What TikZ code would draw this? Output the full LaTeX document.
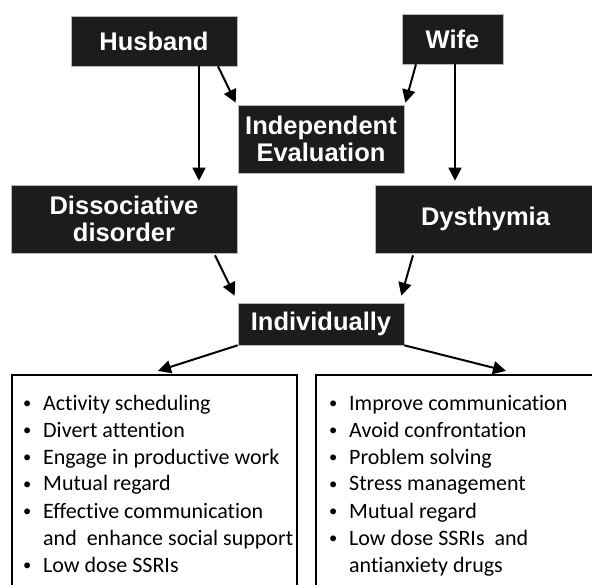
\documentclass[tikz,border=0pt]{standalone}
\usepackage{fontspec}
\setmainfont{Carlito}[Ligatures=NoCommon]
\newfontfamily\hdfont{Liberation Sans}
\usetikzlibrary{arrows.meta}
\definecolor{boxfill}{HTML}{1C1C1C}
\newcommand{\bul}{\llap{\makebox[32pt][c]{\raisebox{1.5pt}{\scalebox{0.75}{•}}}}}
\begin{document}
\begin{tikzpicture}[x=1pt,y=-1pt,
  hbox/.style={draw=gray!55, line width=0.6pt, fill=boxfill, text=white,
    font=\hdfont\bfseries\fontsize{25.5}{27.5}\selectfont, align=center, inner sep=0pt},
  arr/.style={line width=2pt, -{Triangle[length=13pt,width=13pt]}},
  lbox/.style={draw=black, line width=2.2pt, inner sep=0pt},
  listtxt/.style={inner sep=0pt, anchor=base west}]
\useasboundingbox (0,0) rectangle (592,585);
\clip (0,0) rectangle (592,585);

% header boxes
\node[hbox, minimum width=166pt, minimum height=50pt] (hus) at (154,41) {Husband};
\node[hbox, minimum width=101pt, minimum height=50pt] (wife) at (452.5,39) {Wife};
\node[hbox, minimum width=166pt, minimum height=68pt] (ie) at (321,139) {Independent\\Evaluation};
\node[hbox, minimum width=226pt, minimum height=68pt] (diss) at (124,219) {Dissociative\\disorder};
\node[hbox, minimum width=221pt, minimum height=68pt] (dys) at (485.5,219) {Dysthymia};
\node[hbox, minimum width=166pt, minimum height=42pt] (ind) at (321,324) {Individually};

% bottom boxes
\node[lbox, minimum width=285pt, minimum height=225pt] (lb) at (154.5,487.5) {};
\node[lbox, minimum width=284pt, minimum height=225pt] (rb) at (458,487.5) {};

\node[listtxt] (ll) at (43,410) {\fontsize{22}{27}\selectfont
  \begin{tabular}[t]{@{}l@{}}
  \bul Activity scheduling\\
  \bul Divert attention\\
  \bul Engage in productive work\\
  \bul Mutual regard\\
  \bul Effective communication\\
  and\ \ enhance social support\\
  \bul Low dose SSRIs
  \end{tabular}};
\node[listtxt] (rl) at (349,410) {\fontsize{22}{27}\selectfont
  \begin{tabular}[t]{@{}l@{}}
  \bul Improve communication\\
  \bul Avoid confrontation\\
  \bul Problem solving\\
  \bul Stress management\\
  \bul Mutual regard\\
  \bul Low dose SSRIs\ \ and\\
  antianxiety drugs
  \end{tabular}};

% connectors
\coordinate (cl) at (199,0);
\coordinate (cr) at (455,0);
\draw[arr] (hus.south -| cl) -- ([yshift=4pt]diss.north -| cl);
\draw[arr] ([xshift=64pt]hus.south) -- ([xshift=-2pt,yshift=2pt]ie.north west);
\draw[arr] ([xshift=-36.5pt]wife.south) -- ([xshift=1pt,yshift=2pt]ie.north east);
\draw[arr] (wife.south -| cr) -- ([yshift=4pt]dys.north -| cr);
\draw[arr] ([xshift=91pt,yshift=-2pt]diss.south) -- ([xshift=-3pt,yshift=7pt]ind.north west);
\draw[arr] ([xshift=-72.5pt,yshift=-2pt]dys.south) -- ([xshift=-3pt,yshift=7pt]ind.north east);
\draw[arr] (ind.south west) -- ([xshift=3.5pt,yshift=3pt]lb.north);
\draw[arr] (ind.south east) -- ([xshift=48pt,yshift=3pt]rb.north);
\end{tikzpicture}
\end{document}
